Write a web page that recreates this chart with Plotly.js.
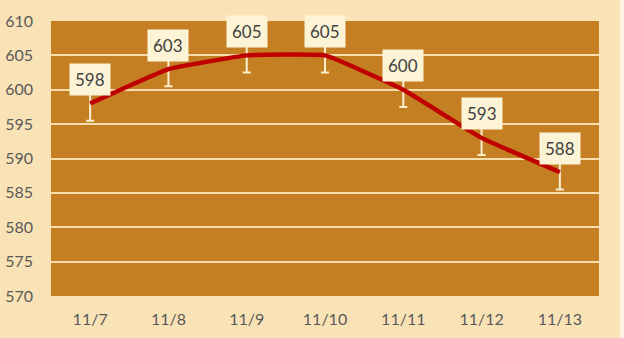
<!DOCTYPE html>
<html>
<head>
<meta charset="utf-8">
<script src="https://cdn.plot.ly/plotly-3.0.1.min.js"></script>
<style>
  html, body { margin: 0; padding: 0; background: #F9E3B6; }
  #chart { width: 624px; height: 338px; }
</style>
</head>
<body>
<div id="chart"></div>
<script>
// Daily values with their error range
const dates = ['11/7', '11/8', '11/9', '11/10', '11/11', '11/12', '11/13'];
const values = [598, 603, 605, 605, 600, 593, 588];
const errors = [2.5, 2.5, 2.5, 2.5, 2.5, 2.5, 2.5];
const yTicks = [570, 575, 580, 585, 590, 595, 600, 605, 610];

const trace = {
  x: dates,
  y: values,
  type: 'scatter',
  mode: 'lines',
  line: { color: '#C00000', width: 4.5, shape: 'spline', smoothing: 0.3 },
  error_y: { type: 'data', array: errors, visible: true, color: '#FBEFD2', thickness: 2, width: 4 },
  hoverinfo: 'skip'
};

// Value labels in cream boxes above each point
const labels = dates.map((d, i) => ({
  x: d,
  y: values[i],
  text: String(values[i]),
  showarrow: false,
  yshift: 24,
  bgcolor: '#FDF4D6',
  borderpad: 5,
  font: { family: 'Lato, "Open Sans", sans-serif', size: 17, color: '#404040' }
}));

const layout = {
  width: 624,
  height: 338,
  margin: { l: 51, r: 25, t: 21, b: 42 },
  paper_bgcolor: '#F9E3B6',
  plot_bgcolor: '#C47F22',
  showlegend: false,
  font: { family: 'Lato, "Open Sans", sans-serif', size: 16, color: '#595959' },
  xaxis: {
    type: 'category',
    range: [-0.5, 6.5],
    showgrid: false,
    zeroline: false,
    showline: false,
    ticks: '',
    ticklen: 0,
    ticklabelstandoff: 12,
    tickfont: { size: 16, color: '#595959' }
  },
  yaxis: {
    range: [570, 610],
    tickvals: yTicks,
    ticktext: yTicks.map(String),
    showgrid: true,
    gridcolor: '#F6DDAE',
    gridwidth: 2,
    zeroline: false,
    showline: false,
    ticks: '',
    ticklabelstandoff: 17,
    tickfont: { size: 16, color: '#595959' }
  },
  // pale margin strip along the right edge of the page
  shapes: [{
    type: 'rect', xref: 'paper', yref: 'paper', layer: 'below',
    x0: 1.038, x1: 1.05, y0: -0.2, y1: 1.1,
    fillcolor: '#FBF2E3', line: { width: 0 }
  }],
  annotations: labels
};

Plotly.newPlot('chart', [trace], layout, { staticPlot: true, displayModeBar: false });
</script>
</body>
</html>
